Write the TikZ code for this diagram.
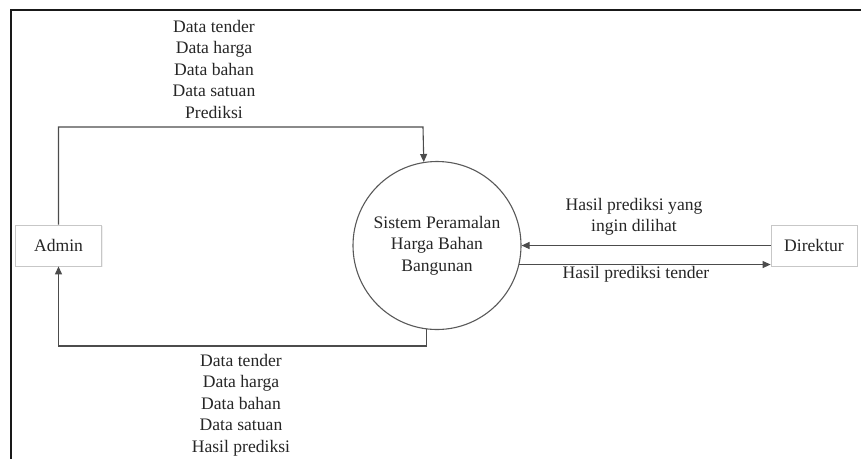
\documentclass[tikz,border=0pt]{standalone}
\usepackage{fontspec}
\setmainfont{Liberation Serif}
\usetikzlibrary{arrows.meta,shadows}
\begin{document}
\begin{tikzpicture}[x=1pt,y=-1pt,
  every node/.style={font=\fontsize{17.6}{21.5}\selectfont, text=black!85},
  entity/.style={draw=black!22, line width=0.8pt, fill=white, minimum width=86pt, minimum height=41pt,
    drop shadow={opacity=0.12, shadow xshift=1pt, shadow yshift=-1pt}},
  process/.style={circle, draw=black!65, line width=1.1pt, minimum size=168pt, inner sep=0pt, align=center},
  flow/.style={draw=black!70, line width=1.1pt, -{Triangle[length=8pt,width=7pt]}},
  lbl/.style={align=center, inner sep=0pt}]
  \useasboundingbox (0,0) rectangle (861,459);
  % outer frame (top and left edges)
  \draw[line width=2pt, black!90] (861,10) -- (11,10) -- (11,459);

  \node[entity] (admin) at (58.5,245.5) {Admin};
  \node[entity] (direktur) at (814,245.5) {Direktur};
  \node[process] (sys) at (437,245.5) {Sistem Peramalan\\Harga Bahan\\Bangunan};

  \coordinate (topturn) at (423,127);
  \coordinate (botturn) at (58.5,346);

  % Admin -> system
  \draw[flow] (admin.north) |- (topturn) -- (sys.99.6);
  % system -> Admin
  \draw[flow] (sys.263.2) |- (botturn) -- (admin.south);
  % Direktur -> system
  \draw[flow] (direktur.west) -- (direktur.west -| sys.east);
  % system -> Direktur
  \draw[flow] (sys.-13.8) -- (sys.-13.8 -| direktur.west);

  \node[lbl] (ltop) at (214,69) {Data tender\\Data harga\\Data bahan\\Data satuan\\Prediksi};
  \node[lbl] (lbot) at (241,405) {Data tender\\Data harga\\Data bahan\\Data satuan\\Hasil prediksi};
  \node[lbl] (lreq) at (634,217) {Hasil prediksi yang\\ingin dilihat};
  \node[lbl] (lres) at (636,274) {Hasil prediksi tender};
\end{tikzpicture}
\end{document}
